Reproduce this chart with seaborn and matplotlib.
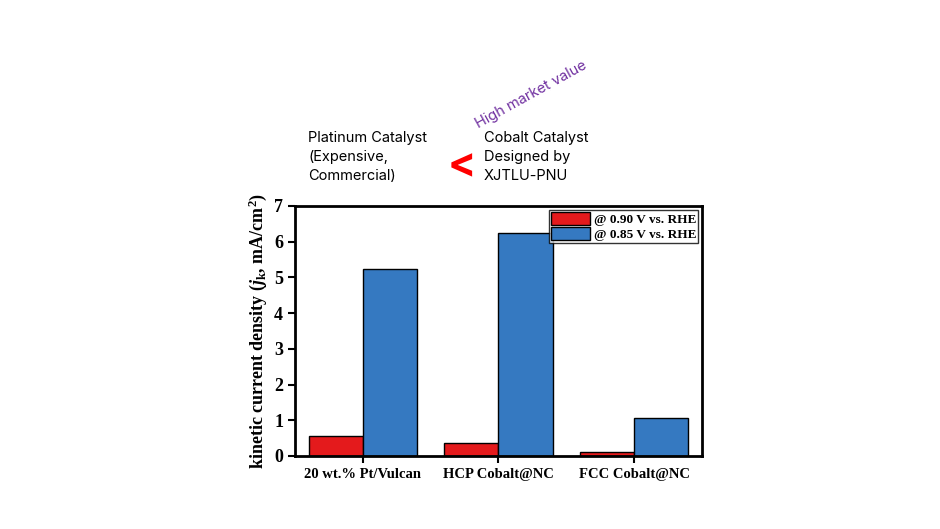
import matplotlib
matplotlib.use('Agg')
import matplotlib.pyplot as plt
import numpy as np
import pandas as pd
import seaborn as sns

catalysts = ['20 wt.% Pt/Vulcan', 'HCP Cobalt@NC', 'FCC Cobalt@NC']
potentials = ['@ 0.90 V vs. RHE', '@ 0.85 V vs. RHE']
jk_090 = [0.56, 0.37, 0.10]
jk_085 = [5.23, 6.24, 1.07]
bar_colors = ['#E41A1C', '#3579C1']

df = pd.DataFrame({
    'catalyst': catalysts * 2,
    'potential': [potentials[0]] * 3 + [potentials[1]] * 3,
    'jk': jk_090 + jk_085,
})

sns.set_style('white')
plt.rcParams['font.family'] = ['Liberation Serif', 'DejaVu Serif']
plt.rcParams['text.color'] = 'black'
plt.rcParams['axes.labelcolor'] = 'black'
plt.rcParams['xtick.color'] = 'black'
plt.rcParams['ytick.color'] = 'black'
plt.rcParams['mathtext.fontset'] = 'custom'
plt.rcParams['mathtext.rm'] = 'Liberation Serif:bold'
plt.rcParams['mathtext.it'] = 'Liberation Serif:italic:bold'
plt.rcParams['mathtext.bf'] = 'Liberation Serif:bold'

fig = plt.figure(figsize=(9.4, 5.29), dpi=100)
ax = fig.add_axes([0.3138, 0.138, 0.433, 0.4726])

sns.barplot(data=df, x='catalyst', y='jk', hue='potential', palette=bar_colors,
            width=0.8, edgecolor='black', linewidth=1.0, ax=ax, saturation=1)

ax.set_xlim(-0.5, 2.5)
ax.set_ylim(0, 7)
ax.set_yticks(range(0, 8))
ax.set_xlabel('')
ax.set_ylabel(r'kinetic current density ($j_{\rm k}$, mA/cm$^{2}$)',
              fontsize=13, fontweight='bold', labelpad=4)
for sp in ax.spines.values():
    sp.set_visible(True)
    sp.set_color('black')
    sp.set_linewidth(2)
ax.tick_params(axis='both', direction='out', length=5, width=1.5, color='black',
               bottom=True, left=True)
ax.tick_params(axis='y', labelsize=13)
ax.tick_params(axis='x', labelsize=10.5)
for lbl in ax.get_xticklabels() + ax.get_yticklabels():
    lbl.set_fontweight('bold')

leg = ax.legend(loc='upper right', frameon=True, fancybox=False,
                edgecolor='black', handlelength=3.0, handleheight=1.15,
                borderpad=0.15, labelspacing=0.05, handletextpad=0.25,
                borderaxespad=0.3, prop={'weight': 'bold', 'size': 9.5})
leg.get_frame().set_linewidth(1.0)

# annotation above the chart
sans = ['Inter', 'DejaVu Sans']
fig.text(308 / 940, 1 - 131 / 529, 'Platinum Catalyst\n(Expensive,\nCommercial)',
         family=sans, fontsize=10.5, va='top', ha='left', linespacing=1.45, color='black')
fig.text(484 / 940, 1 - 131 / 529, 'Cobalt Catalyst\nDesigned by\nXJTLU-PNU',
         family=sans, fontsize=10.5, va='top', ha='left', linespacing=1.45, color='black')
fig.text(462 / 940, 1 - 166 / 529, '<', family=sans, fontsize=30, color='#FF0000',
         fontweight='bold', ha='center', va='center')
fig.text(531 / 940, 1 - 95 / 529, 'High market value', family=sans, fontsize=10.5,
         color='#7030A0', rotation=29, ha='center', va='center')

fig.savefig('out.png', dpi=100)
plt.close()
